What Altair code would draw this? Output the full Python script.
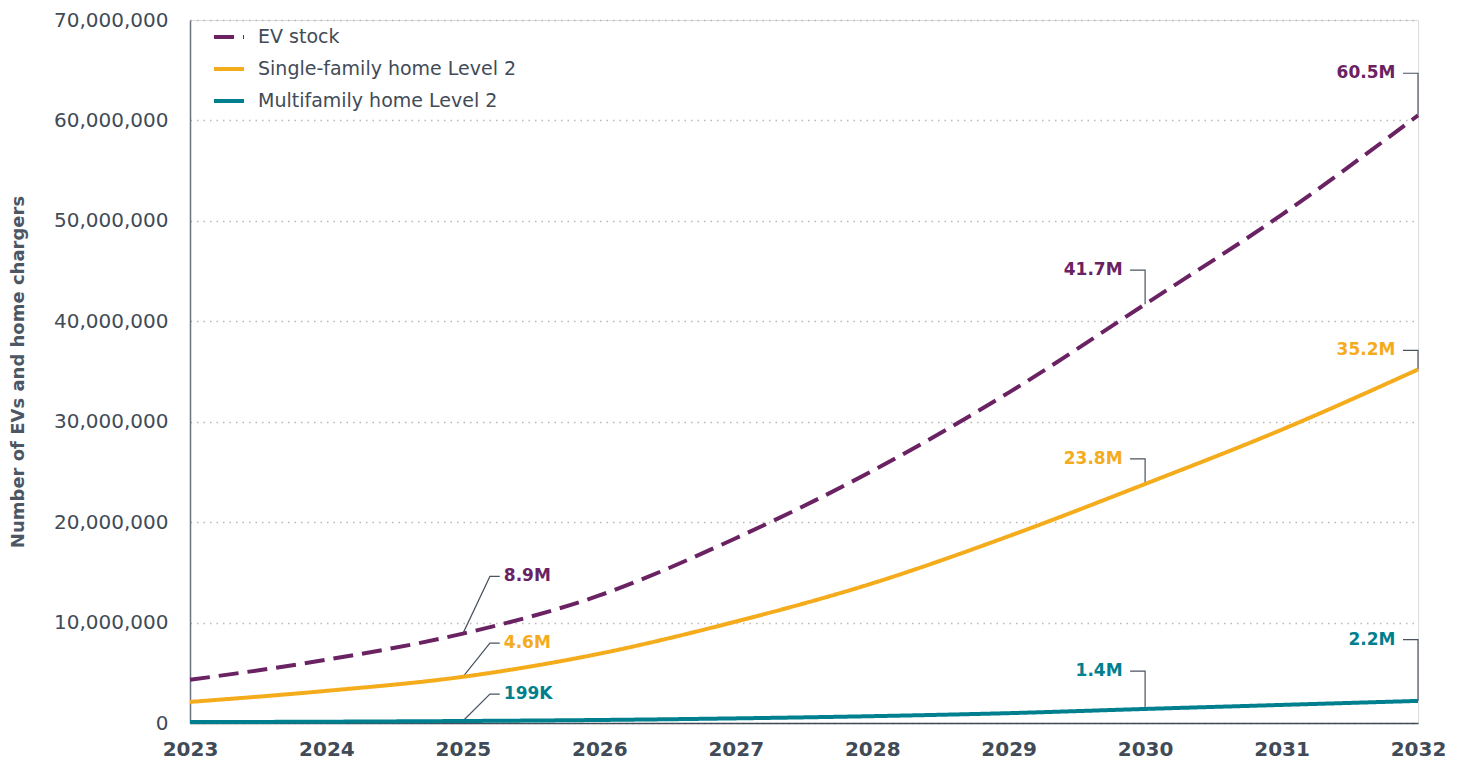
import altair as alt
import pandas as pd

years = [2023, 2024, 2025, 2026, 2027, 2028, 2029, 2030, 2031, 2032]
ev_stock = [4.3e6, 6.3e6, 8.9e6, 12.7e6, 18.4e6, 25.1e6, 32.9e6, 41.7e6, 50.6e6, 60.5e6]
single_family = [2.1e6, 3.2e6, 4.6e6, 6.9e6, 10.1e6, 13.9e6, 18.6e6, 23.8e6, 29.2e6, 35.2e6]
multifamily = [0.09e6, 0.13e6, 0.199e6, 0.30e6, 0.46e6, 0.68e6, 0.98e6, 1.4e6, 1.8e6, 2.2e6]

series_names = ["EV stock", "Single-family home Level 2", "Multifamily home Level 2"]
series_colors = ["#6a2263", "#f4ac1c", "#00808f"]

# annotations: label text, series, anchor year, anchor value, side
ann_labels = ["8.9M", "4.6M", "199K", "41.7M", "23.8M", "1.4M", "60.5M", "35.2M", "2.2M"]
ann_series = [0, 1, 2, 0, 1, 2, 0, 1, 2]
ann_year = [2025, 2025, 2025, 2030, 2030, 2030, 2032, 2032, 2032]
ann_value = [8.9e6, 4.6e6, 0.199e6, 41.7e6, 23.8e6, 1.4e6, 60.5e6, 35.2e6, 2.2e6]
ann_label_value = [14.6e6, 7.95e6, 2.88e6, 45.1e6, 26.3e6, 5.16e6, 64.7e6, 37.1e6, 8.3e6]
ann_side = ["left", "left", "left", "right", "right", "right", "right", "right", "right"]

rows = []
for name, vals in zip(series_names, [ev_stock, single_family, multifamily]):
    for y, v in zip(years, vals):
        rows.append({"year": y, "value": v, "series": name})
df = pd.DataFrame(rows)

leader_rows = []
text_rows = []
for i, lab in enumerate(ann_labels):
    x0, v0, v1 = ann_year[i], ann_value[i], ann_label_value[i]
    if ann_side[i] == "left":
        pts = [(x0, v0), (x0 + 0.198, v1), (x0 + 0.27, v1)]
        text_rows.append({"x": x0 + 0.30, "v": v1, "label": lab,
                          "series": series_names[ann_series[i]], "align": "left"})
    else:
        pts = [(x0, v0), (x0, v1), (x0 - 0.11, v1)]
        text_rows.append({"x": x0 - 0.165, "v": v1, "label": lab,
                          "series": series_names[ann_series[i]], "align": "right"})
    for k, (px, pv) in enumerate(pts):
        leader_rows.append({"id": i, "ord": k, "x": px, "v": pv})
ldf = pd.DataFrame(leader_rows)
tdf = pd.DataFrame(text_rows)

FONT = "DejaVu Sans"
TXT = "#414b57"
xscale = alt.Scale(domain=[2023, 2032], nice=False, zero=False)
yscale = alt.Scale(domain=[0, 70e6], nice=False)
cscale = alt.Scale(domain=series_names, range=series_colors)

legend = alt.Legend(
    title=None, orient="none", legendX=22, legendY=0, symbolType="stroke",
    symbolSize=900, symbolStrokeWidth=4, labelFontSize=19, labelFont=FONT,
    labelColor=TXT, rowPadding=5, labelOffset=12, labelLimit=0,
)

lines = alt.Chart(df).mark_line(strokeWidth=4, interpolate="monotone").encode(
    x=alt.X("year:Q", scale=xscale,
            axis=alt.Axis(values=years, format="d", title=None, grid=False, ticks=False,
                          labelFont=FONT, labelFontSize=20, labelFontWeight="bold",
                          labelColor=TXT, labelPadding=16, domainColor=TXT,
                          domainWidth=1.5, labelFlush=False)),
    y=alt.Y("value:Q", scale=yscale,
            axis=alt.Axis(values=[0, 10e6, 20e6, 30e6, 40e6, 50e6, 60e6, 70e6], format=",d",
                          title="Number of EVs and home chargers", titleFont=FONT,
                          titleFontSize=18, titleFontWeight="bold", titleColor="#4d5663",
                          titlePadding=26, ticks=False, labelFont=FONT, labelFontSize=20,
                          labelColor=TXT, labelPadding=22, domainColor="#6b7280",
                          domainWidth=1.5, grid=True, gridColor="#b8b8b8",
                          gridDash=[1.5, 5], gridWidth=1.5)),
    color=alt.Color("series:N", scale=cscale, sort=series_names, legend=legend),
    strokeDash=alt.StrokeDash("series:N", sort=series_names,
                              scale=alt.Scale(domain=series_names, range=[[20, 9], [1, 0], [1, 0]]),
                              legend=legend),
    order=alt.Order("year:Q"),
)

leaders = alt.Chart(ldf).mark_line(color="#4a5360", strokeWidth=1.2).encode(
    x=alt.X("x:Q", scale=xscale),
    y=alt.Y("v:Q", scale=yscale),
    detail="id:N",
    order="ord:Q",
)

text_left = alt.Chart(tdf[tdf["align"] == "left"]).mark_text(
    align="left", baseline="middle", font=FONT, fontSize=17, fontWeight="bold"
).encode(
    x=alt.X("x:Q", scale=xscale), y=alt.Y("v:Q", scale=yscale), text="label:N",
    color=alt.Color("series:N", scale=cscale, legend=None),
)
text_right = alt.Chart(tdf[tdf["align"] == "right"]).mark_text(
    align="right", baseline="middle", font=FONT, fontSize=17, fontWeight="bold"
).encode(
    x=alt.X("x:Q", scale=xscale), y=alt.Y("v:Q", scale=yscale), text="label:N",
    color=alt.Color("series:N", scale=cscale, legend=None),
)

chart = alt.layer(leaders, lines, text_left, text_right).properties(
    width=1228, height=703,
    autosize=alt.AutoSizeParams(type="none"),
    padding={"left": 182, "top": 12, "right": 35, "bottom": 40},
).configure_view(stroke=None).configure(background="white")

chart.save("out.html", embed_options={"renderer": "svg", "actions": False})
